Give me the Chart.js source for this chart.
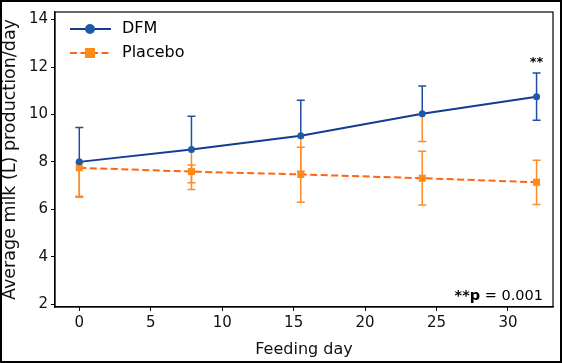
<!DOCTYPE html>
<html><head><meta charset="utf-8">
<script src="https://cdn.jsdelivr.net/npm/chart.js@4"></script>
<style>html,body{margin:0;padding:0;background:#fff}#w{width:562px;height:363px;position:relative}</style>
</head><body><div id="w"><canvas id="c" width="562" height="363"></canvas></div>
<script>
const days = [0, 7.85, 15.5, 24, 32];
const dfmMean = [8.0, 8.52, 9.1, 10.03, 10.75];
const dfmErrUp = [1.45, 1.4, 1.5, 1.17, 1.0];
const dfmErrDown = [1.45, 1.4, 1.5, 1.17, 1.0];
const placeboMean = [7.75, 7.59, 7.47, 7.31, 7.14];
const placeboErrUp = [0.2, 0.28, 1.15, 1.14, 0.93];
const placeboErrDown = [1.24, 0.75, 1.17, 1.13, 0.94];
const xTicks = [0, 5, 10, 15, 20, 25, 30];
const yTicks = [2, 4, 6, 8, 10, 12, 14];
const seriesNames = ['DFM', 'Placebo'];
const sigNote = '= 0.001';

const BLUE_LINE = '#163b92', BLUE_PT = '#1f5aa8', BLUE_ERR = '#1f4fa3';
const OR_LINE = '#ff6410', OR_PT = '#ff8c1a', OR_ERR = '#ff8a2a';
const FONT = '"DejaVu Sans", sans-serif';

const errPlugin = {
  id: 'err',
  beforeDatasetsDraw(chart) {
    const ctx = chart.ctx, xs = chart.scales.x, ys = chart.scales.y;
    const whisker = (d, from, to, color) => {
      const x = xs.getPixelForValue(d);
      const a = ys.getPixelForValue(from), b = ys.getPixelForValue(to);
      ctx.strokeStyle = color; ctx.lineWidth = 1.5;
      ctx.beginPath();
      ctx.moveTo(x, a); ctx.lineTo(x, b);
      ctx.moveTo(x - 4, b); ctx.lineTo(x + 4, b);
      ctx.stroke();
    };
    ctx.save();
    days.forEach((d, i) => {
      const lowCol = (dfmMean[i] - dfmErrDown[i] < placeboMean[i] + placeboErrUp[i] + 0.8) ? OR_ERR : BLUE_ERR;
      whisker(d, dfmMean[i], dfmMean[i] - dfmErrDown[i], lowCol);
    });
    days.forEach((d, i) => {
      whisker(d, placeboMean[i], placeboMean[i] + placeboErrUp[i], OR_ERR);
      whisker(d, placeboMean[i], placeboMean[i] - placeboErrDown[i], OR_ERR);
    });
    days.forEach((d, i) => {
      whisker(d, dfmMean[i], dfmMean[i] + dfmErrUp[i], BLUE_ERR);
    });
    ctx.restore();
  },
  afterDraw(chart) {
    const ctx = chart.ctx, a = chart.chartArea, xs = chart.scales.x;
    ctx.save();
    ctx.strokeStyle = '#000'; ctx.lineWidth = 1.2;
    ctx.strokeRect(a.left, a.top, a.right - a.left, a.bottom - a.top);
    ctx.lineWidth = 2;
    ctx.strokeRect(1, 1, 560, 361);
    const legend = [
      {name: seriesNames[0], y: 29, line: BLUE_LINE, pt: BLUE_PT, dash: [], shape: 'circle'},
      {name: seriesNames[1], y: 53, line: OR_LINE, pt: OR_PT, dash: [7, 3.5], shape: 'rect'}
    ];
    legend.forEach(l => {
      ctx.strokeStyle = l.line; ctx.lineWidth = 2; ctx.setLineDash(l.dash);
      ctx.beginPath(); ctx.moveTo(70, l.y); ctx.lineTo(111, l.y); ctx.stroke();
      ctx.setLineDash([]);
      ctx.fillStyle = l.pt;
      if (l.shape === 'circle') { ctx.beginPath(); ctx.arc(90, l.y, 5, 0, Math.PI * 2); ctx.fill(); }
      else { ctx.fillRect(85, l.y - 5, 10, 10); }
      ctx.fillStyle = '#000'; ctx.font = '16px ' + FONT; ctx.textBaseline = 'middle'; ctx.textAlign = 'left';
      ctx.fillText(l.name, 122, l.y);
    });
    const lx = xs.getPixelForValue(days[days.length - 1]);
    ctx.font = 'bold 13px ' + FONT; ctx.textAlign = 'center'; ctx.textBaseline = 'middle';
    ctx.fillText('**', lx, 63);
    ctx.font = '14.5px ' + FONT; ctx.textAlign = 'right';
    const right = 543;
    ctx.fillText(sigNote, right, 296);
    const w = ctx.measureText(' ' + sigNote).width;
    ctx.font = 'bold 14.5px ' + FONT;
    ctx.fillText('**p', right - w, 296);
    ctx.restore();
  }
};

new Chart(document.getElementById('c'), {
  type: 'line',
  data: {
    datasets: [
      {label: seriesNames[0], data: days.map((d, i) => ({x: d, y: dfmMean[i]})),
       borderColor: BLUE_LINE, backgroundColor: BLUE_PT, borderWidth: 2,
       pointStyle: 'circle', pointRadius: 3.5, pointBackgroundColor: BLUE_PT, pointBorderWidth: 0, tension: 0},
      {label: seriesNames[1], data: days.map((d, i) => ({x: d, y: placeboMean[i]})),
       borderColor: OR_LINE, backgroundColor: OR_PT, borderWidth: 2, borderDash: [7, 3.5],
       pointStyle: 'rect', pointRadius: 5, pointBackgroundColor: OR_PT, pointBorderWidth: 0, tension: 0}
    ]
  },
  options: {
    responsive: false, animation: false, devicePixelRatio: 1,
    layout: {padding: {left: 0, top: 7, right: 9, bottom: 0}},
    plugins: {legend: {display: false}, tooltip: {enabled: false}},
    scales: {
      x: {type: 'linear', min: -1.7, max: 33.15,
          afterBuildTicks: s => { s.ticks = xTicks.map(v => ({value: v})); },
          afterFit: s => { s.height = 56; },
          grid: {drawOnChartArea: false, tickLength: 4, tickColor: '#000', tickWidth: 1},
          border: {color: '#000', width: 1.2},
          ticks: {color: '#111', font: {family: FONT, size: 15}, padding: 3, maxRotation: 0},
          title: {display: true, text: 'Feeding day', color: '#111', font: {family: FONT, size: 16}, padding: {top: 2}}
      },
      y: {type: 'linear', min: 1.88, max: 14.32,
          afterBuildTicks: s => { s.ticks = yTicks.map(v => ({value: v})); },
          afterFit: s => { s.width = 55; },
          grid: {drawOnChartArea: false, tickLength: 4, tickColor: '#000', tickWidth: 1},
          border: {color: '#000', width: 1.2},
          ticks: {color: '#111', font: {family: FONT, size: 15}, padding: 3},
          title: {display: true, text: 'Average milk (L) production/day', color: '#111', font: {family: FONT, size: 17.5}, padding: {top: 0, bottom: 1}}
      }
    }
  },
  plugins: [errPlugin]
});
</script></body></html>
